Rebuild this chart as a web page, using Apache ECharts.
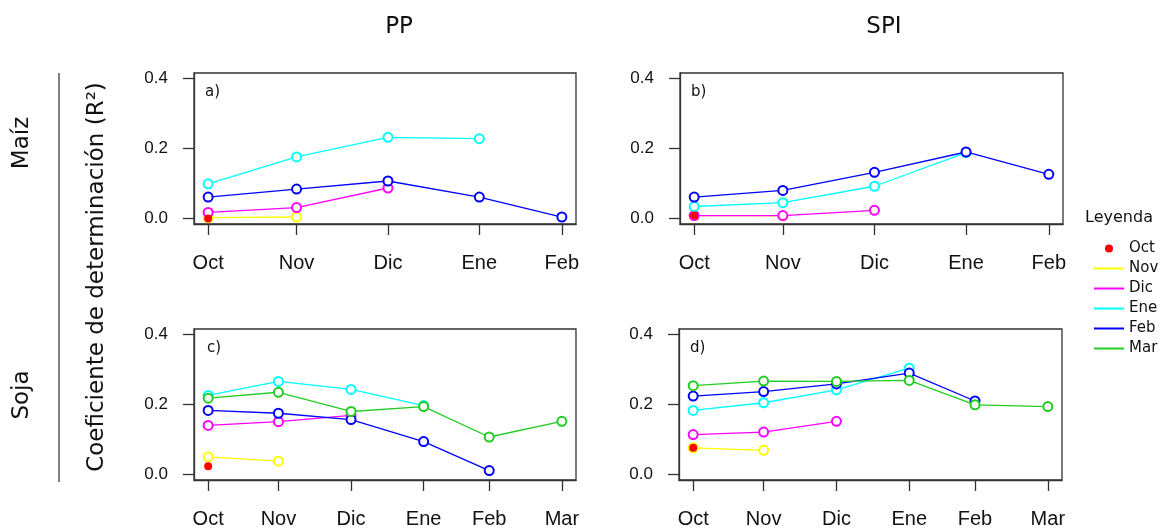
<!DOCTYPE html>
<html>
<head>
<meta charset="utf-8">
<title>Coeficiente de determinación</title>
<script src="https://cdn.jsdelivr.net/npm/echarts@6/dist/echarts.min.js"></script>
<style>
  html, body { margin: 0; padding: 0; background: #fff; }
  #chart { width: 1165px; height: 529px; }
</style>
</head>
<body>
<div id="chart"></div>
<script>
// meses del eje x, posicion en dias (fin de mes)
var monthNames = ['Oct', 'Nov', 'Dic', 'Ene', 'Feb', 'Mar'];
var monthDays = [0, 30, 61, 92, 120, 151];
var yTicks = [0, 0.2, 0.4];
var seriesColors = ['#ff0000', '#ffff00', '#ff00ff', '#00ffff', '#0000ff', '#22cc22'];

// R2 de cada serie: Oct, Nov, Dic, Ene, Feb, (Mar)
var maizPP = [
  [0.000],
  [0.002, 0.004],
  [0.017, 0.031, 0.087],
  [0.099, 0.176, 0.232, 0.228],
  [0.061, 0.084, 0.107, 0.061, 0.004]
];
var maizSPI = [
  [0.008],
  [0.008, 0.007],
  [0.008, 0.008, 0.023],
  [0.034, 0.045, 0.092, 0.188],
  [0.061, 0.080, 0.132, 0.190, 0.126]
];
var sojaPP = [
  [0.023],
  [0.050, 0.038],
  [0.140, 0.151, 0.169],
  [0.226, 0.266, 0.243, 0.197],
  [0.183, 0.175, 0.157, 0.094, 0.011],
  [0.218, 0.235, 0.180, 0.194, 0.107, 0.152]
];
var sojaSPI = [
  [0.076],
  [0.076, 0.069],
  [0.114, 0.121, 0.152],
  [0.183, 0.205, 0.242, 0.304],
  [0.224, 0.237, 0.259, 0.290, 0.210],
  [0.254, 0.267, 0.266, 0.269, 0.199, 0.194]
];

var panels = [maizPP, maizSPI, sojaPP, sojaSPI];
var panelLetters = ['a)', 'b)', 'c)', 'd)'];

var chart = echarts.init(document.getElementById('chart'));

var grids = [
  { left: 194, top: 73, width: 382, height: 151 },
  { left: 680, top: 73, width: 383, height: 151 },
  { left: 194, top: 329, width: 382, height: 152 },
  { left: 679, top: 329, width: 383, height: 152 }
];
var axisColor = '#333';
var xAxes = [], yAxes = [], series = [];

panels.forEach(function (vals, p) {
  grids[p].show = true;
  grids[p].borderColor = axisColor;
  grids[p].borderWidth = 1.3;
  grids[p].backgroundColor = 'transparent';

  var days = monthDays.slice(0, vals.length);
  var span = days[days.length - 1];
  xAxes.push({
    type: 'value', gridIndex: p,
    min: -0.04 * span, max: span * 1.04,
    splitLine: { show: false },
    axisLine: { show: true, onZero: false, lineStyle: { color: axisColor, width: 1.3 } },
    axisTick: { show: true, inside: false, length: 11, customValues: days,
      lineStyle: { color: axisColor, width: 1.3 } },
    axisLabel: { customValues: days, margin: 29, fontSize: 20, color: '#111',
      fontFamily: 'Liberation Sans, Arial, sans-serif',
      formatter: function (v) { return monthNames[monthDays.indexOf(v)]; } }
  });
  yAxes.push({
    type: 'value', gridIndex: p,
    min: -0.016, max: 0.416,
    splitLine: { show: false },
    axisLine: { show: true, onZero: false, lineStyle: { color: axisColor, width: 1.3 } },
    axisTick: { show: true, inside: false, length: 11, customValues: yTicks,
      lineStyle: { color: axisColor, width: 1.3 } },
    axisLabel: { customValues: yTicks, margin: 26, fontSize: 17, color: '#111',
      fontFamily: 'Liberation Sans, Arial, sans-serif',
      formatter: function (v) { return v.toFixed(1); } }
  });

  // lineas primero, el punto rojo de Oct al final (queda encima)
  for (var k = 1; k < vals.length; k++) {
    series.push({
      type: 'line', name: monthNames[k],
      xAxisIndex: p, yAxisIndex: p,
      data: vals[k].map(function (v, j) { return [monthDays[j], v]; }),
      symbol: 'emptyCircle', symbolSize: 9,
      itemStyle: { color: seriesColors[k], borderWidth: 1 },
      lineStyle: { color: seriesColors[k], width: 1.3 },
      clip: false, animation: false, z: 2 + k
    });
  }
  series.push({
    type: 'line', name: monthNames[0],
    xAxisIndex: p, yAxisIndex: p,
    data: vals[0].map(function (v, j) { return [monthDays[j], v]; }),
    symbol: 'circle', symbolSize: 8,
    itemStyle: { color: seriesColors[0] },
    clip: false, animation: false, z: 10
  });
});

var linePath = 'path://M0,0H30V2H0Z';
var legendData = monthNames.map(function (m, i) {
  return { name: m, icon: i === 0 ? 'circle' : linePath };
});

function label(txt, x, y, size, rot, align) {
  return {
    type: 'text', x: x, y: y, rotation: rot || 0, silent: true,
    style: { text: txt, fill: '#111', fontSize: size,
      fontFamily: 'DejaVu Sans, sans-serif',
      align: align || 'center', verticalAlign: 'middle' }
  };
}

var graphics = [
  label('PP', 399, 27, 23),
  label('SPI', 884, 27, 23),
  label('Maíz', 22, 143, 23, Math.PI / 2),
  label('Soja', 22, 395, 23, Math.PI / 2),
  label('Coeficiente de determinación (R²)', 97, 277, 23, Math.PI / 2),
  label('Leyenda', 1119, 218, 16),
  {
    type: 'line', silent: true,
    shape: { x1: 59, y1: 73, x2: 59, y2: 482 },
    style: { stroke: '#555', lineWidth: 1.5 }
  }
];
var letterPos = [[205, 92], [691, 92], [207, 348], [690, 348]];
panelLetters.forEach(function (t, i) {
  graphics.push(label(t, letterPos[i][0], letterPos[i][1], 15, 0, 'left'));
});

chart.setOption({
  backgroundColor: '#fff',
  animation: false,
  grid: grids,
  xAxis: xAxes,
  yAxis: yAxes,
  legend: {
    data: legendData, orient: 'vertical',
    left: 1089, top: 236,
    itemWidth: 30, itemHeight: 8, itemGap: 5,
    selectedMode: false,
    textStyle: { fontSize: 15, color: '#111', fontFamily: 'DejaVu Sans, sans-serif' }
  },
  graphic: graphics,
  series: series
});
</script>
</body>
</html>
